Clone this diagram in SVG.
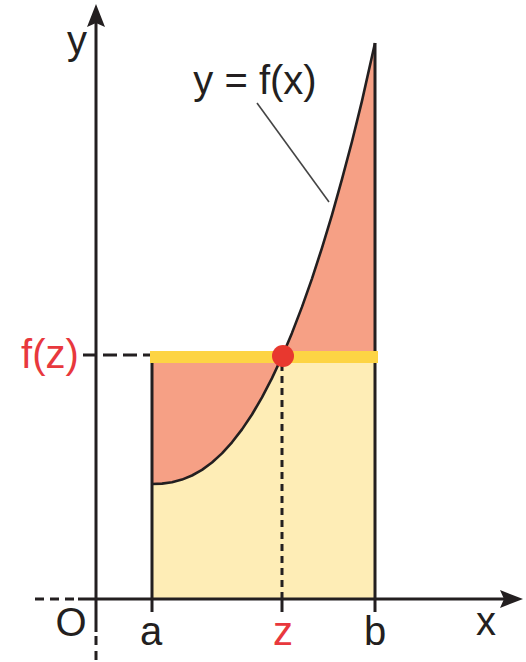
<svg xmlns="http://www.w3.org/2000/svg" width="526" height="662" viewBox="0 0 526 662">
<style>
.ln{stroke:#231F20;stroke-width:3;fill:none}
.dash{stroke:#231F20;stroke-width:3;fill:none;stroke-dasharray:9 6}
.t{font-family:"Liberation Sans",Arial,sans-serif;font-size:40px;fill:#231F20;text-anchor:middle}
.red{fill:#E8383D}
</style>
<rect width="526" height="662" fill="#FFFFFF"/>
<g id="area-yellow">
<rect x="152" y="357" width="223" height="242" fill="#FEEDB6"/>
</g>
<g id="area-salmon">
<path d="M152,357 L152,484 L162,483.65 L172,482.3 L182,479.6 L192,475.5 L202,469.9 L212,462.5 L222,453.4 L232,442.3 L242,429.4 L252,414.5 L262,397.4 L272,378.1 L282,356.7 L292,332.9 L302,306.9 L312,278.6 L322,247.8 L332,214.9 L342,179.2 L352,141.5 L362,100.9 L375,43 L375,357 Z" fill="#F6A085"/>
</g>
<g id="axes">
<line class="ln" x1="96" y1="20" x2="96" y2="632"/>
<line class="dash" x1="96" y1="636" x2="96" y2="662"/>
<polygon points="96,4 105,27 96,23 87,27" fill="#231F20"/>
<line class="ln" x1="78" y1="599" x2="508" y2="599"/>
<line class="dash" x1="35" y1="599" x2="78" y2="599"/>
<polygon points="523,599 500,608 504,599 500,590" fill="#231F20"/>
</g>
<g id="connectors">
<line class="ln" x1="152" y1="357" x2="152" y2="612"/>
<line class="ln" x1="375" y1="43" x2="375" y2="612"/>
<line class="ln" x1="282" y1="599" x2="282" y2="612"/>
<line x1="282" y1="364" x2="282" y2="599" stroke="#231F20" stroke-width="3" stroke-dasharray="7 5"/>
<line x1="83" y1="355" x2="150" y2="355" stroke="#231F20" stroke-width="3" stroke-dasharray="14 6"/>
<line x1="257" y1="103" x2="329" y2="202" stroke="#444" stroke-width="1.6"/>
</g>
<g id="curve">
<path d="M152,484 L162,483.65 L172,482.3 L182,479.6 L192,475.5 L202,469.9 L212,462.5 L222,453.4 L232,442.3 L242,429.4 L252,414.5 L262,397.4 L272,378.1 L282,356.7 L292,332.9 L302,306.9 L312,278.6 L322,247.8 L332,214.9 L342,179.2 L352,141.5 L362,100.9 L375,43" fill="none" stroke="#231F20" stroke-width="2.6" stroke-linejoin="round"/>
</g>
<g id="bar">
<rect x="150" y="351" width="228" height="12" fill="#FDD444"/>
</g>
<g id="point">
<circle cx="283" cy="356" r="11" fill="#E8382F"/>
</g>
<g id="labels">
<text class="t" x="77" y="54">y</text>
<text class="t" x="255" y="94">y = f(x)</text>
<text class="t red" x="50" y="368">f(z)</text>
<text class="t" x="71" y="636">O</text>
<text class="t" x="151" y="645">a</text>
<text class="t red" x="283" y="645">z</text>
<text class="t" x="375" y="645">b</text>
<text class="t" x="486" y="635">x</text>
</g>
</svg>
